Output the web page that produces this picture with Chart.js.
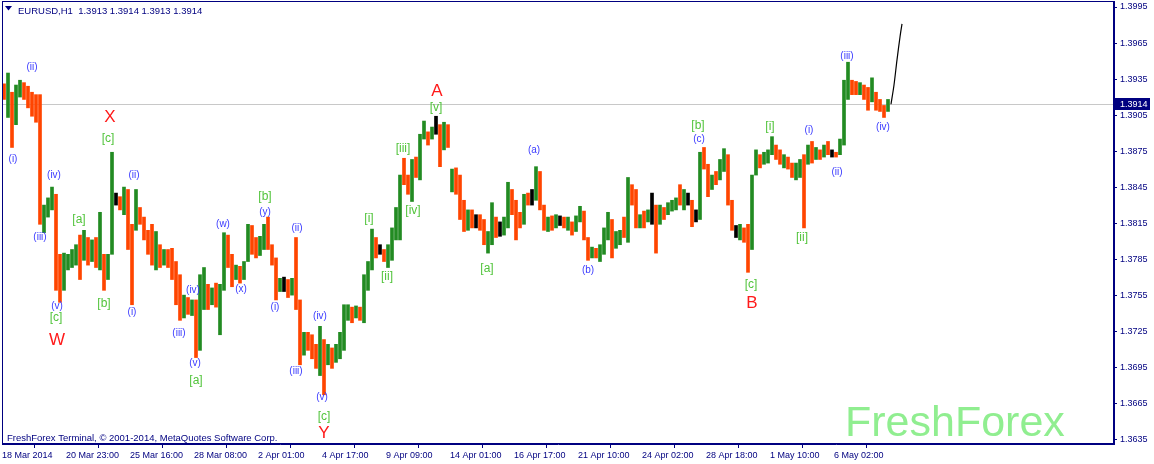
<!DOCTYPE html>
<html>
<head>
<meta charset="utf-8">
<script src="https://cdn.jsdelivr.net/npm/chart.js@4.4.1/dist/chart.umd.min.js"></script>
<style>
  html, body { margin: 0; padding: 0; background: #fff; }
  canvas { display: block; }
</style>
</head>
<body>
<canvas id="chart" width="1154" height="464"></canvas>
<script>
// EURUSD H1, 18 Mar - 6 May 2014 in 4-hour columns
var highs = [
  1.3931, 1.3940, 1.3924, 1.3930, 1.3934, 1.3932, 1.3929, 1.3924, 1.3922, 1.3922,
  1.3830, 1.3836, 1.3845, 1.3839, 1.3789, 1.3790, 1.3789, 1.3793, 1.3797, 1.3805,
  1.3809, 1.3803, 1.3801, 1.3803, 1.3824, 1.3789, 1.3789, 1.3874, 1.3840, 1.3837,
  1.3845, 1.3843, 1.3814, 1.3843, 1.3828, 1.3820, 1.3809, 1.3814, 1.3808, 1.3797,
  1.3793, 1.3793, 1.3794, 1.3783, 1.3772, 1.3755, 1.3753, 1.3751, 1.3751, 1.3772,
  1.3778, 1.3764, 1.3761, 1.3765, 1.3764, 1.3807, 1.3805, 1.3789, 1.3780, 1.3779,
  1.3783, 1.3814, 1.3813, 1.3803, 1.3804, 1.3814, 1.3820, 1.3797, 1.3786, 1.3769,
  1.3770, 1.3768, 1.3769, 1.3803, 1.3751, 1.3724, 1.3724, 1.3722, 1.3714, 1.3729,
  1.3718, 1.3714, 1.3711, 1.3714, 1.3724, 1.3747, 1.3747, 1.3745, 1.3746, 1.3745,
  1.3772, 1.3783, 1.3810, 1.3803, 1.3797, 1.3793, 1.3797, 1.3811, 1.3828, 1.3855,
  1.3869, 1.3855, 1.3868, 1.3870, 1.3889, 1.3900, 1.3891, 1.3895, 1.3904, 1.3897,
  1.3899, 1.3897, 1.3860, 1.3861, 1.3855, 1.3834, 1.3826, 1.3826, 1.3822, 1.3822,
  1.3818, 1.3808, 1.3832, 1.3820, 1.3816, 1.3820, 1.3849, 1.3843, 1.3834, 1.3824,
  1.3839, 1.3840, 1.3843, 1.3862, 1.3858, 1.3830, 1.3820, 1.3821, 1.3822, 1.3821,
  1.3820, 1.3820, 1.3816, 1.3821, 1.3829, 1.3825, 1.3803, 1.3795, 1.3794, 1.3797,
  1.3811, 1.3824, 1.3818, 1.3808, 1.3809, 1.3820, 1.3853, 1.3847, 1.3843, 1.3822,
  1.3825, 1.3826, 1.3840, 1.3830, 1.3830, 1.3828, 1.3832, 1.3834, 1.3836, 1.3847,
  1.3843, 1.3840, 1.3834, 1.3826, 1.3874, 1.3878, 1.3864, 1.3855, 1.3858, 1.3868,
  1.3877, 1.3872, 1.3834, 1.3813, 1.3814, 1.3811, 1.3814, 1.3855, 1.3876, 1.3872,
  1.3874, 1.3876, 1.3887, 1.3880, 1.3876, 1.3872, 1.3870, 1.3865, 1.3865, 1.3868,
  1.3872, 1.3880, 1.3883, 1.3878, 1.3876, 1.3880, 1.3883, 1.3876, 1.3874, 1.3885,
  1.3934, 1.3949, 1.3934, 1.3933, 1.3932, 1.3930, 1.3928, 1.3936, 1.3924, 1.3918,
  1.3913, 1.3918
];
var lows = [
  1.3918, 1.3903, 1.3878, 1.3897, 1.3920, 1.3918, 1.3911, 1.3904, 1.3899, 1.3814,
  1.3807, 1.3820, 1.3826, 1.3759, 1.3749, 1.3759, 1.3776, 1.3778, 1.3780, 1.3768,
  1.3784, 1.3780, 1.3783, 1.3778, 1.3776, 1.3759, 1.3768, 1.3789, 1.3830, 1.3826,
  1.3822, 1.3793, 1.3747, 1.3809, 1.3814, 1.3801, 1.3789, 1.3780, 1.3776, 1.3778,
  1.3780, 1.3778, 1.3768, 1.3747, 1.3734, 1.3736, 1.3739, 1.3738, 1.3703, 1.3709,
  1.3743, 1.3743, 1.3747, 1.3745, 1.3722, 1.3759, 1.3778, 1.3762, 1.3768, 1.3765,
  1.3768, 1.3783, 1.3789, 1.3786, 1.3788, 1.3793, 1.3793, 1.3780, 1.3751, 1.3758,
  1.3758, 1.3753, 1.3755, 1.3743, 1.3697, 1.3705, 1.3709, 1.3702, 1.3694, 1.3688,
  1.3672, 1.3697, 1.3694, 1.3699, 1.3702, 1.3709, 1.3734, 1.3732, 1.3736, 1.3734,
  1.3732, 1.3759, 1.3776, 1.3786, 1.3789, 1.3783, 1.3778, 1.3784, 1.3801, 1.3801,
  1.3847, 1.3839, 1.3833, 1.3853, 1.3851, 1.3885, 1.3880, 1.3885, 1.3889, 1.3862,
  1.3876, 1.3878, 1.3841, 1.3839, 1.3818, 1.3808, 1.3809, 1.3811, 1.3811, 1.3809,
  1.3797, 1.3790, 1.3797, 1.3803, 1.3804, 1.3805, 1.3811, 1.3822, 1.3801, 1.3811,
  1.3814, 1.3830, 1.3830, 1.3834, 1.3826, 1.3809, 1.3808, 1.3809, 1.3811, 1.3813,
  1.3811, 1.3809, 1.3805, 1.3808, 1.3816, 1.3801, 1.3784, 1.3786, 1.3786, 1.3783,
  1.3789, 1.3801, 1.3786, 1.3794, 1.3797, 1.3803, 1.3799, 1.3830, 1.3811, 1.3811,
  1.3811, 1.3816, 1.3814, 1.3790, 1.3814, 1.3818, 1.3822, 1.3825, 1.3826, 1.3830,
  1.3826, 1.3830, 1.3812, 1.3816, 1.3818, 1.3860, 1.3837, 1.3843, 1.3847, 1.3851,
  1.3858, 1.3830, 1.3809, 1.3803, 1.3801, 1.3799, 1.3774, 1.3793, 1.3855, 1.3861,
  1.3864, 1.3865, 1.3872, 1.3868, 1.3864, 1.3861, 1.3860, 1.3853, 1.3851, 1.3853,
  1.3811, 1.3864, 1.3865, 1.3868, 1.3868, 1.3870, 1.3872, 1.3870, 1.3870, 1.3872,
  1.3880, 1.3918, 1.3922, 1.3922, 1.3922, 1.3918, 1.3909, 1.3916, 1.3909, 1.3908,
  1.3903, 1.3908
];
// u = bull, d = bear, n = doji
var dirs = 'duduuddddd' + 'uuudduuuud' + 'udududuund' + 'udduddddud' + 'uddddududu' +
           'ududuuddud' + 'uudduudddu' + 'nduddudddu' + 'duduuuudud' + 'uuudnduuuu' +
           'dduduudund' + 'ududddudnd' + 'duudnuuddd' + 'udnuddudun' + 'duduuddudu' +
           'uuduududdu' + 'dunduduuud' + 'undnuddudu' + 'uddnudduud' + 'uuuddudduu' +
           'dudududndu' + 'uudduddudd' + 'du';

// the drawn black line at the right end
var forecastHours = [889, 892, 895, 898, 900];
var forecastPrices = [1.3914, 1.3930, 1.3951, 1.3970, 1.3981];

var lastBid = 1.3914;
var priceTicks = [1.3635, 1.3665, 1.3695, 1.3725, 1.3755, 1.3785, 1.3815,
                  1.3845, 1.3875, 1.3905, 1.3935, 1.3965, 1.3995];
var timeTickHours = [0, 64, 128, 192, 256, 320, 384, 448, 512, 576, 640, 704, 768, 832];
var timeLabels = ['18 Mar 2014', '20 Mar 23:00', '25 Mar 16:00', '28 Mar 08:00', '2 Apr 01:00',
                  '4 Apr 17:00', '9 Apr 09:00', '14 Apr 01:00', '16 Apr 17:00', '21 Apr 10:00',
                  '24 Apr 02:00', '28 Apr 18:00', '1 May 10:00', '6 May 02:00'];

// wave marks: text, hour, price, kind (b = minor blue, g = green, r = red)
var waveText  = ['(i)', '(ii)', '(iii)', '(iv)', '(v)', '[a]', '[b]', '[c]', 'W', '[c]', 'X',
                 '(i)', '(ii)', '(iii)', '(iv)', '(v)', '[a]', '(w)', '(x)', '(y)', '[b]',
                 '(i)', '(ii)', '(iii)', '(iv)', '(v)', '[c]', 'Y',
                 '[i]', '[ii]', '[iii]', '[iv]', '[v]', 'A',
                 '[a]', '(a)', '(b)', '(c)', '[b]', '[c]', 'B',
                 '[i]', '[ii]', '(i)', '(ii)', '(iii)', '(iv)'];
var waveHour  = [11, 30, 38, 52, 55, 77, 102, 54, 55, 106, 108,
                 130, 132, 177, 191, 193, 194, 221, 239, 263, 263,
                 273, 295, 294, 318, 320, 322, 322,
                 367, 385, 401, 411, 434, 435,
                 485, 532, 586, 697, 696, 749, 750,
                 768, 800, 807, 835, 845, 881];
var wavePrice = [1.3868, 1.3945, 1.3803, 1.3855, 1.3746, 1.3818, 1.3748, 1.3736, 1.3717, 1.3885, 1.3903,
                 1.3741, 1.3855, 1.3723, 1.3759, 1.3698, 1.3684, 1.3814, 1.3760, 1.3824, 1.3837,
                 1.3745, 1.3811, 1.3692, 1.3737, 1.3670, 1.3654, 1.3640,
                 1.3819, 1.3770, 1.3877, 1.3825, 1.3911, 1.3925,
                 1.3777, 1.3876, 1.3776, 1.3885, 1.3896, 1.3764, 1.3748,
                 1.3895, 1.3803, 1.3892, 1.3857, 1.3954, 1.3895];
var waveKind  = ['b', 'b', 'b', 'b', 'b', 'g', 'g', 'g', 'r', 'g', 'r',
                 'b', 'b', 'b', 'b', 'b', 'g', 'b', 'b', 'b', 'g',
                 'b', 'b', 'b', 'b', 'b', 'g', 'r',
                 'g', 'g', 'g', 'g', 'g', 'r',
                 'g', 'b', 'b', 'b', 'g', 'g', 'r',
                 'g', 'g', 'b', 'b', 'b', 'b'];

var NAVY = '#000080';
var FONT = 'Liberation Sans';
var candleColors = { u: '#228b22', d: '#ff4500', n: '#000000' };
var waveStyle = {
  b: { color: '#3a3aff', font: '10px "' + FONT + '"' },
  g: { color: '#52c43c', font: '12px "' + FONT + '"' },
  r: { color: '#ff1a1a', font: '17px "' + FONT + '"' }
};

var terminalDecor = {
  id: 'terminalDecor',
  beforeDatasetsDraw: function(chart) {
    var ctx = chart.ctx, a = chart.chartArea, y = chart.scales.y;
    ctx.save();
    // bid line
    var yb = Math.round(y.getPixelForValue(lastBid)) + 0.5;
    ctx.strokeStyle = '#c8c8c8';
    ctx.lineWidth = 1;
    ctx.beginPath();
    ctx.moveTo(a.left, yb);
    ctx.lineTo(a.right, yb);
    ctx.stroke();
    // watermark
    ctx.font = '43px "' + FONT + '"';
    ctx.fillStyle = '#90ee90';
    ctx.textBaseline = 'alphabetic';
    ctx.fillText('FreshForex', 845, 436);
    ctx.restore();
  },
  afterDatasetsDraw: function(chart) {
    var ctx = chart.ctx, x = chart.scales.x, y = chart.scales.y;
    ctx.save();
    ctx.textAlign = 'center';
    ctx.textBaseline = 'middle';
    for (var i = 0; i < waveText.length; i++) {
      var st = waveStyle[waveKind[i]];
      ctx.font = st.font;
      ctx.fillStyle = st.color;
      ctx.fillText(waveText[i], x.getPixelForValue(waveHour[i]), y.getPixelForValue(wavePrice[i]));
    }
    ctx.restore();
  },
  afterDraw: function(chart) {
    var ctx = chart.ctx, a = chart.chartArea, y = chart.scales.y;
    ctx.save();
    // frame
    ctx.strokeStyle = NAVY;
    ctx.lineWidth = 1;
    ctx.strokeRect(a.left + 0.5, a.top + 0.5, a.right - a.left - 1, a.bottom - a.top - 1);
    // header
    ctx.fillStyle = NAVY;
    ctx.beginPath();
    ctx.moveTo(5, 6); ctx.lineTo(12, 6); ctx.lineTo(8.5, 10.5); ctx.closePath();
    ctx.fill();
    ctx.font = '9.5px "' + FONT + '"';
    ctx.textBaseline = 'alphabetic';
    ctx.fillText('EURUSD,H1  1.3913 1.3914 1.3913 1.3914', 18, 14);
    ctx.fillText('FreshForex Terminal, \u00a9 2001-2014, MetaQuotes Software Corp.', 7, 441);
    // bid price tag
    var yb = Math.round(y.getPixelForValue(lastBid));
    ctx.fillRect(a.right + 1, yb - 6, 35, 12);
    ctx.fillStyle = '#ffffff';
    ctx.font = '9px "' + FONT + '"';
    ctx.textBaseline = 'middle';
    ctx.fillText(lastBid.toFixed(4), a.right + 6, yb + 0.5);
    ctx.restore();
  }
};

var ctx = document.getElementById('chart');
var chart = new Chart(ctx, {
  type: 'bar',
  data: {
    datasets: [{
      type: 'line',
      data: forecastHours.map(function(h, i) { return { x: h, y: forecastPrices[i] }; }),
      borderColor: '#000000',
      borderWidth: 1.2,
      pointRadius: 0,
      tension: 0.3,
      order: 0
    }, {
      type: 'bar',
      data: highs.map(function(h, i) { return { x: 2 + 4 * i, y: [lows[i], h] }; }),
      backgroundColor: dirs.split('').map(function(d) { return candleColors[d]; }),
      barThickness: 3,
      borderWidth: 0,
      grouped: false,
      order: 1
    }]
  },
  options: {
    responsive: false,
    animation: false,
    layout: { padding: { left: 2, top: 1, right: 0, bottom: 0 } },
    plugins: { legend: { display: false }, tooltip: { enabled: false } },
    scales: {
      x: {
        type: 'linear',
        min: 0,
        max: 1112,
        offset: false,
        grid: { drawOnChartArea: false, tickLength: 4, color: NAVY },
        border: { color: NAVY },
        ticks: {
          align: 'start',
          autoSkip: false,
          maxRotation: 0,
          padding: 2,
          color: NAVY,
          font: { family: FONT, size: 9 },
          callback: function(v) { return timeLabels[timeTickHours.indexOf(v)]; }
        },
        afterBuildTicks: function(s) { s.ticks = timeTickHours.map(function(v) { return { value: v }; }); },
        afterFit: function(s) { s.height = 20; s.paddingLeft = 0; s.paddingRight = 0; }
      },
      y: {
        position: 'right',
        min: 1.3631,
        max: 1.4000,
        grid: { drawOnChartArea: false, tickLength: 3, color: NAVY },
        border: { color: NAVY },
        ticks: {
          padding: 3,
          color: NAVY,
          font: { family: FONT, size: 9 },
          callback: function(v) { return v.toFixed(4); }
        },
        afterBuildTicks: function(s) { s.ticks = priceTicks.map(function(v) { return { value: v }; }); },
        afterFit: function(s) { s.width = 40; s.paddingTop = 0; s.paddingBottom = 0; }
      }
    }
  },
  plugins: [terminalDecor]
});
</script>
</body>
</html>
